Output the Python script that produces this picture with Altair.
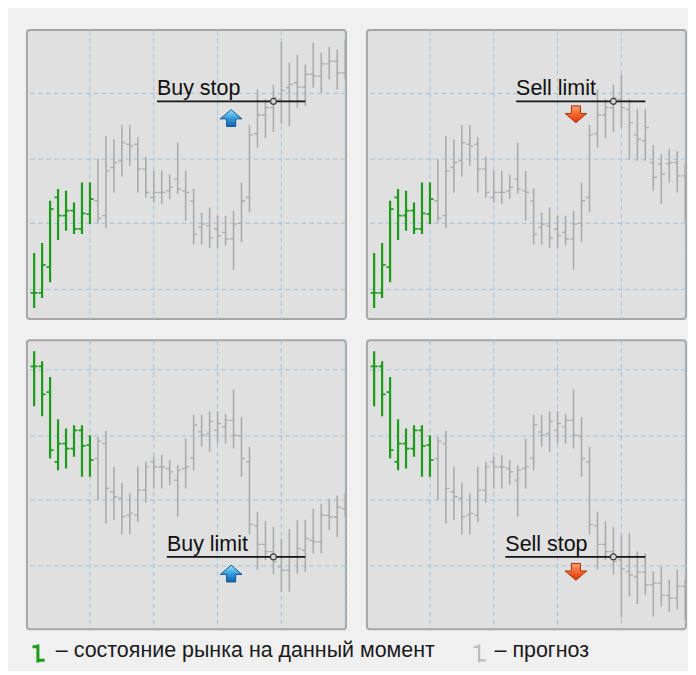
import altair as alt
import pandas as pd

# ---------------- data ----------------
bars = list(range(1, 41))
kinds = ["hist"] * 8 + ["fcst"] * 32

# upper panels: common bars 1-31
H_up = [223, 253, 380, 415, 410, 375, 435, 435, 505, 575, 565, 608, 608, 572, 512, 470, 470, 460, 555, 470,
        416, 344, 360, 335, 335, 350, 435, 608, 715, 685, 728]
L_up = [57, 87, 135, 262, 290, 280, 280, 310, 315, 297, 405, 453, 485, 405, 390, 375, 370, 385, 400, 320,
        248, 248, 238, 238, 245, 172, 255, 345, 540, 568, 587]
O_up = [103, 103, 180, 390, 335, 350, 295, 340, 380, 335, 480, 500, 550, 550, 475, 390, 405, 410, 445, 410,
        379, 300, 305, 295, 285, 265, 312, 390, 582, 638, 660]
C_up = [103, 187, 355, 335, 350, 295, 342, 385, 328, 470, 495, 555, 545, 475, 405, 405, 405, 420, 415, 405,
        279, 310, 268, 275, 265, 310, 380, 578, 638, 660, 690]

# Buy stop tail (bars 32-40)
H1t = [858, 795, 818, 790, 855, 825, 842, 835, 865]
L1t = [612, 605, 660, 665, 720, 705, 745, 715, 745]
O1t = [685, 720, 735, 722, 760, 755, 792, 800, 765]
C1t = [712, 730, 722, 760, 755, 792, 800, 765, 800]

# Sell limit tail
H2t = [758, 685, 655, 655, 548, 520, 535, 530, 490]
L2t = [600, 505, 500, 500, 410, 370, 435, 405, 320]
O2t = [685, 655, 578, 560, 495, 490, 492, 495, 455]
C2t = [660, 615, 565, 600, 450, 460, 495, 455, 430]

# lower panels: common bars 1-31
H_dn = [859, 829, 781, 654, 626, 636, 636, 606, 601, 619, 511, 463, 431, 511, 526, 541, 546, 531, 516, 596,
        668, 668, 678, 678, 671, 744, 661, 571, 376, 348, 329]
L_dn = [693, 663, 536, 501, 506, 541, 481, 481, 411, 341, 351, 308, 308, 344, 404, 446, 446, 456, 361, 446,
        500, 572, 556, 581, 581, 566, 481, 308, 201, 231, 188]
O_dn = [813, 813, 736, 526, 581, 566, 621, 576, 536, 581, 436, 416, 366, 366, 441, 526, 511, 506, 471, 506,
        537, 616, 611, 621, 631, 651, 604, 526, 334, 278, 256]
C_dn = [813, 729, 561, 581, 566, 621, 574, 531, 588, 446, 421, 361, 371, 441, 511, 511, 511, 496, 501, 511,
        637, 606, 648, 641, 651, 606, 536, 338, 278, 256, 226]

# Buy limit tail
H3t = [295, 325, 350, 352, 385, 400, 415, 425, 430]
L3t = [135, 135, 190, 195, 250, 250, 320, 300, 360]
O3t = [210, 200, 240, 260, 290, 285, 365, 360, 385]
C3t = [200, 240, 265, 295, 285, 365, 360, 390, 380]

# Sell stop tail
H4t = [304, 311, 256, 251, 196, 211, 171, 201, 171]
L4t = [58, 121, 98, 126, 61, 91, 74, 81, 51]
O4t = [231, 196, 181, 194, 156, 161, 124, 116, 151]
C4t = [204, 186, 194, 156, 161, 124, 116, 151, 116]

grid_x = [8, 16, 24, 32, 40]
grid_y_up = [113, 312, 505, 703]
grid_y_dn = [213, 411, 604, 803]
dom_up = [24, 894]
dom_dn = [22, 892]

labels = ["Buy stop", "Sell limit", "Buy limit", "Sell stop"]
order_price = [679, 679, 240, 240]
order_start = [16.4, 18.8, 17.65, 17.45]
order_end = [35, 35, 35, 35]
touch_bar = [31, 31, 31, 31]
arrow_bar = [25.7, 26.3, 25.7, 26.3]
arrow_price = [628, 641, 189, 196]
arrow_dir = ["up", "down", "up", "down"]

legend_labels = ["– состояние рынка на данный момент", "– прогноз"]

# ---------------- style ----------------
GREEN = "#1a9c1a"
GRAY = "#ababab"
GRID = "#a9c0d6"
FONT = "Liberation Sans"

UP_PATH = "M0,-0.8 L1,0.05 L0.42,0.05 L0.42,0.75 L-0.42,0.75 L-0.42,0.05 L-1,0.05 Z"
DOWN_PATH = "M0,0.8 L1,-0.05 L0.42,-0.05 L0.42,-0.75 L-0.42,-0.75 L-0.42,-0.05 L-1,-0.05 Z"
ICON = "M0,-1 L0,1 M-0.6,-0.75 L0,-0.75 M0,0.75 L0.75,0.75"

blue_grad = alt.Gradient(gradient="linear",
                         stops=[alt.GradientStop(color="#9be2fb", offset=0),
                                alt.GradientStop(color="#2b98dc", offset=0.55),
                                alt.GradientStop(color="#1466ad", offset=1)],
                         x1=0, x2=0, y1=0, y2=1)
orange_grad = alt.Gradient(gradient="linear",
                           stops=[alt.GradientStop(color="#ffa070", offset=0),
                                  alt.GradientStop(color="#f7602a", offset=0.55),
                                  alt.GradientStop(color="#d23a0c", offset=1)],
                           x1=0, x2=0, y1=0, y2=1)


def legend_layers():
    one = pd.DataFrame({"a": [0]})
    return [
        alt.Chart(one).mark_point(shape=ICON, filled=False, color=GREEN, strokeWidth=3, size=324,
                                  opacity=1).encode(x=alt.value(11), y=alt.value(314.3)),
        alt.Chart(pd.DataFrame({"label": [legend_labels[0]]})).mark_text(
            align="left", baseline="alphabetic", font=FONT, fontSize=21.5, color="#1a1a1a"
        ).encode(x=alt.value(29), y=alt.value(317.3), text="label:N"),
        alt.Chart(one).mark_point(shape=ICON, filled=False, color="#bdbdbd", strokeWidth=2.2, size=324,
                                  opacity=1).encode(x=alt.value(453.5), y=alt.value(314.3)),
        alt.Chart(pd.DataFrame({"label": [legend_labels[1]]})).mark_text(
            align="left", baseline="alphabetic", font=FONT, fontSize=21.5, color="#1a1a1a"
        ).encode(x=alt.value(469), y=alt.value(317.3), text="label:N"),
    ]


def panel(H, L, O, C, gy, ydom, i, with_legend=False):
    df = pd.DataFrame({"bar": bars, "high": H, "low": L, "open": O, "close": C, "kind": kinds})
    xs = alt.Scale(domain=[0.1, 40.1], nice=False, zero=False)
    ys = alt.Scale(domain=ydom, nice=False, zero=False)

    vgrid = alt.Chart(pd.DataFrame({"v": grid_x})).mark_rule(
        color=GRID, strokeWidth=1, strokeDash=[5, 3]
    ).encode(x=alt.X("v:Q", scale=xs, axis=None))
    hgrid = alt.Chart(pd.DataFrame({"g": gy})).mark_rule(
        color=GRID, strokeWidth=1, strokeDash=[5, 3]
    ).encode(y=alt.Y("g:Q", scale=ys, axis=None))

    layers = [vgrid, hgrid]
    for k, col, w in [("fcst", GRAY, 1.6), ("hist", GREEN, 2.2)]:
        base = alt.Chart(df).transform_filter(alt.datum.kind == k)
        x = alt.X("bar:Q", scale=xs, axis=None)
        layers.append(base.mark_rule(color=col, strokeWidth=w, clip=True).encode(
            x=x, y=alt.Y("low:Q", scale=ys, axis=None), y2="high:Q"))
        layers.append(base.mark_tick(orient="horizontal", color=col, size=3.5, thickness=w * 0.8,
                                     xOffset=-1.75, opacity=1, clip=True).encode(
            x=x, y=alt.Y("open:Q", scale=ys, axis=None)))
        layers.append(base.mark_tick(orient="horizontal", color=col, size=3.5, thickness=w * 0.8,
                                     xOffset=1.75, opacity=1, clip=True).encode(
            x=x, y=alt.Y("close:Q", scale=ys, axis=None)))

    odf = pd.DataFrame({"x1": [order_start[i]], "x2": [order_end[i]], "p": [order_price[i]],
                        "label": [labels[i]], "t": [touch_bar[i]],
                        "ax": [arrow_bar[i]], "ap": [arrow_price[i]]})
    ob = alt.Chart(odf)
    layers.append(ob.mark_rule(color="#151515", strokeWidth=1.6).encode(
        x=alt.X("x1:Q", scale=xs, axis=None), x2="x2:Q", y=alt.Y("p:Q", scale=ys, axis=None)))
    layers.append(ob.mark_text(align="left", baseline="alphabetic", dy=-6, font=FONT,
                               fontSize=21.5, color="#111111").encode(
        x=alt.X("x1:Q", scale=xs, axis=None), y=alt.Y("p:Q", scale=ys, axis=None), text="label:N"))
    layers.append(ob.mark_point(shape="circle", filled=True, color="#d4d4d4", stroke="#3a3a3a",
                                strokeWidth=1.2, size=36, opacity=1).encode(
        x=alt.X("t:Q", scale=xs, axis=None), y=alt.Y("p:Q", scale=ys, axis=None)))
    if arrow_dir[i] == "up":
        shp, grad, strk = UP_PATH, blue_grad, "#0e5590"
    else:
        shp, grad, strk = DOWN_PATH, orange_grad, "#a83008"
    layers.append(ob.mark_point(shape=shp, filled=True, fill=grad, stroke=strk, strokeWidth=1,
                                size=470, opacity=1).encode(
        x=alt.X("ax:Q", scale=xs, axis=None), y=alt.Y("ap:Q", scale=ys, axis=None)))
    if with_legend:
        layers += legend_layers()

    return alt.layer(*layers).properties(width=320, height=290)


p1 = panel(H_up + H1t, L_up + L1t, O_up + O1t, C_up + C1t, grid_y_up, dom_up, 0)
p2 = panel(H_up + H2t, L_up + L2t, O_up + O2t, C_up + C2t, grid_y_up, dom_up, 1)
p3 = panel(H_dn + H3t, L_dn + L3t, O_dn + O3t, C_dn + C3t, grid_y_dn, dom_dn, 2, with_legend=True)
p4 = panel(H_dn + H4t, L_dn + L4t, O_dn + O4t, C_dn + C4t, grid_y_dn, dom_dn, 3)

chart = alt.concat(
    p1, p2, p3, p4, columns=2, bounds="flush",
    spacing=alt.RowColnumber(row=21.2, column=21),
).properties(
    padding={"left": 17, "top": 19, "right": 0, "bottom": 0},
    background="#f0f0f0",
).configure_view(fill="#e0e0e0", stroke="#a6a6a6", strokeWidth=2, cornerRadius=3)

chart.save("out.html", embed_options={"renderer": "svg", "actions": False})
